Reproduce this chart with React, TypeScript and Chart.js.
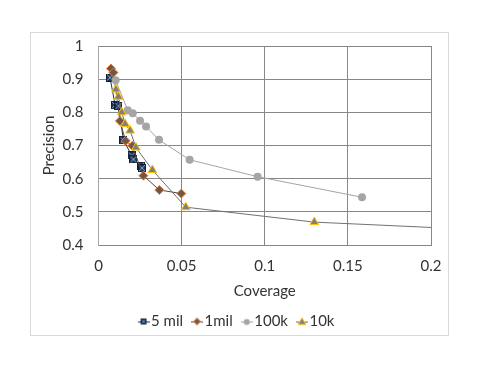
import React, { useEffect, useRef } from "react";
import { Chart, registerables } from "chart.js";

Chart.register(...registerables);

const seriesNames = ["5 mil", "1mil", "100k", "10k"];

const cov5mil = [0.0069, 0.01, 0.012, 0.015, 0.02, 0.021, 0.0256, 0.0262];
const prec5mil = [0.905, 0.822, 0.819, 0.716, 0.67, 0.658, 0.639, 0.632];

const cov1mil = [0.0075, 0.009, 0.0129, 0.0163, 0.0203, 0.027, 0.0366, 0.0498];
const prec1mil = [0.932, 0.92, 0.774, 0.714, 0.699, 0.609, 0.566, 0.555];

const cov100k = [0.0103, 0.0176, 0.0206, 0.025, 0.0286, 0.0364, 0.0548, 0.0957, 0.1585];
const prec100k = [0.897, 0.806, 0.797, 0.775, 0.757, 0.717, 0.657, 0.606, 0.544];

const cov10k = [0.0105, 0.012, 0.014, 0.016, 0.019, 0.0225, 0.0324, 0.0525, 0.1298, 0.3];
const prec10k = [0.869, 0.847, 0.8, 0.765, 0.745, 0.694, 0.626, 0.514, 0.469, 0.43];

const xTicks = [0, 0.05, 0.1, 0.15, 0.2];
const xTickLabels = ["0", "0.05", "0.1", "0.15", "0.2"];
const yTicks = [0.4, 0.5, 0.6, 0.7, 0.8, 0.9, 1];
const yTickLabels = ["0.4", "0.5", "0.6", "0.7", "0.8", "0.9", "1"];

const FONT = "Lato, 'Open Sans', sans-serif";
const FS = 15;
const TEXT = "#333333";

function toPts(xs: number[], ys: number[]) {
  return xs.map((x, i) => ({ x, y: ys[i] }));
}

function labelFor(ticks: number[], labels: string[], v: number) {
  for (let i = 0; i < ticks.length; i++) {
    if (Math.abs(ticks[i] - v) < 1e-9) return labels[i];
  }
  return "";
}

function makeSquare(): HTMLCanvasElement {
  const c = document.createElement("canvas");
  c.width = 8;
  c.height = 8;
  const g = c.getContext("2d")!;
  g.fillStyle = "#1f3556";
  g.fillRect(0, 0, 8, 8);
  g.strokeStyle = "#7da7d9";
  g.lineWidth = 1;
  g.beginPath();
  g.moveTo(1, 1);
  g.lineTo(7, 7);
  g.moveTo(7, 1);
  g.lineTo(1, 7);
  g.stroke();
  g.strokeStyle = "#0f1f36";
  g.strokeRect(0.5, 0.5, 7, 7);
  return c;
}

function makeLegendIcon(kind: number, lineColor: string, square: HTMLCanvasElement): HTMLCanvasElement {
  const c = document.createElement("canvas");
  c.width = 12;
  c.height = 10;
  const g = c.getContext("2d")!;
  g.strokeStyle = lineColor;
  g.lineWidth = 1;
  g.beginPath();
  g.moveTo(0, 5.5);
  g.lineTo(12, 5.5);
  g.stroke();
  const cx = 6, cy = 5;
  if (kind === 0) {
    g.drawImage(square, cx - 3, cy - 3, 6, 6);
  } else if (kind === 1) {
    g.fillStyle = "#705848";
    g.strokeStyle = "#ed7d31";
    g.beginPath();
    g.moveTo(cx, cy - 3.5);
    g.lineTo(cx + 3.5, cy);
    g.lineTo(cx, cy + 3.5);
    g.lineTo(cx - 3.5, cy);
    g.closePath();
    g.fill();
    g.stroke();
  } else if (kind === 2) {
    g.fillStyle = "#a5a5a5";
    g.beginPath();
    g.arc(cx, cy + 0.5, 3, 0, Math.PI * 2);
    g.fill();
  } else {
    g.fillStyle = "#7f7f7f";
    g.strokeStyle = "#ffc000";
    g.beginPath();
    g.moveTo(cx, cy - 3.5);
    g.lineTo(cx + 4, cy + 3);
    g.lineTo(cx - 4, cy + 3);
    g.closePath();
    g.fill();
    g.stroke();
  }
  return c;
}

const framePlugin = {
  id: "frame",
  beforeDraw(chart: any) {
    const ctx = chart.ctx;
    ctx.save();
    ctx.fillStyle = "#ffffff";
    ctx.fillRect(0, 0, chart.width, chart.height);
    ctx.strokeStyle = "#d9d9d9";
    ctx.lineWidth = 1;
    ctx.strokeRect(30.5, 32.5, 418, 303);
    ctx.restore();
  },
};

export default function App() {
  const ref = useRef<HTMLCanvasElement | null>(null);

  useEffect(() => {
    if (!ref.current) return;
    const square = makeSquare();
    const lineColors = ["#1f3556", "#5a4438", "#a5a5a5", "#707070"];
    const icons = [0, 1, 2, 3].map((k) => makeLegendIcon(k, lineColors[k], square));

    const chart = new Chart(ref.current, {
      type: "scatter",
      data: {
        datasets: [
          {
            label: seriesNames[0],
            data: toPts(cov5mil, prec5mil),
            showLine: true,
            borderColor: lineColors[0],
            borderWidth: 1,
            pointStyle: square as any,
            order: 4,
          },
          {
            label: seriesNames[1],
            data: toPts(cov1mil, prec1mil),
            showLine: true,
            borderColor: lineColors[1],
            borderWidth: 1,
            pointStyle: "rectRot",
            pointRadius: 4.5,
            pointBackgroundColor: "#705848",
            pointBorderColor: "#ed7d31",
            pointBorderWidth: 1,
            order: 3,
          },
          {
            label: seriesNames[2],
            data: toPts(cov100k, prec100k),
            showLine: true,
            borderColor: lineColors[2],
            borderWidth: 1,
            pointStyle: "circle",
            pointRadius: 4,
            pointBackgroundColor: "#a5a5a5",
            pointBorderColor: "#a5a5a5",
            pointBorderWidth: 0,
            order: 2,
          },
          {
            label: seriesNames[3],
            data: toPts(cov10k, prec10k),
            showLine: true,
            borderColor: lineColors[3],
            borderWidth: 1,
            pointStyle: "triangle",
            pointRadius: 5,
            pointBackgroundColor: "#7f7f7f",
            pointBorderColor: "#ffc000",
            pointBorderWidth: 1,
            order: 1,
          },
        ] as any,
      },
      options: {
        animation: false,
        responsive: false,
        layout: { padding: { left: 30, right: 37, top: 46, bottom: 35 } },
        plugins: {
          tooltip: { enabled: false },
          legend: {
            position: "bottom",
            labels: {
              usePointStyle: true,
              pointStyleWidth: 0.01,
              padding: 14,
              color: TEXT,
              font: { family: FONT, size: FS },
              generateLabels: () =>
                seriesNames.map((name, i) => ({
                  text: name,
                  pointStyle: icons[i] as any,
                  fillStyle: "transparent",
                  strokeStyle: "transparent",
                  lineWidth: 0,
                  datasetIndex: i,
                  hidden: false,
                  fontColor: TEXT,
                })),
            },
          },
        },
        scales: {
          x: {
            type: "linear",
            min: 0,
            max: 0.2,
            afterFit: (s: any) => {
              s.height = 55;
            },
            afterBuildTicks: (s: any) => {
              s.ticks = xTicks.map((v) => ({ value: v }));
            },
            ticks: {
              color: TEXT,
              font: { family: FONT, size: FS },
              padding: 12,
              maxRotation: 0,
              callback: (v: any) => labelFor(xTicks, xTickLabels, Number(v)),
            },
            grid: { color: "#878787", lineWidth: 1, drawTicks: false },
            border: { color: "#878787", width: 1 },
            title: {
              display: true,
              text: "Coverage",
              color: TEXT,
              font: { family: FONT, size: FS },
              padding: { top: 0, bottom: 0 },
            },
          },
          y: {
            type: "linear",
            min: 0.4,
            max: 1,
            afterFit: (s: any) => {
              s.width = 68.5;
            },
            afterBuildTicks: (s: any) => {
              s.ticks = yTicks.map((v) => ({ value: v }));
            },
            ticks: {
              color: TEXT,
              font: { family: FONT, size: FS },
              padding: 15,
              callback: (v: any) => labelFor(yTicks, yTickLabels, Number(v)),
            },
            grid: { color: "#878787", lineWidth: 1, drawTicks: false },
            border: { color: "#a6a6a6", width: 1 },
            title: {
              display: true,
              text: "Precision",
              color: TEXT,
              font: { family: FONT, size: FS },
              padding: { top: 10, bottom: 0 },
            },
          },
          yRight: {
            type: "linear",
            position: "right",
            min: 0.4,
            max: 1,
            afterFit: (s: any) => {
              s.width = 17;
            },
            grid: { display: false, drawTicks: false },
            border: { display: false },
            ticks: { display: false },
          },
        },
      },
      plugins: [framePlugin],
    });
    return () => chart.destroy();
  }, []);

  return (
    <div style={{ position: "absolute", left: 0, top: 0, width: 485, height: 374 }}>
      <canvas ref={ref} width={485} height={374} style={{ width: 485, height: 374 }} />
    </div>
  );
}
